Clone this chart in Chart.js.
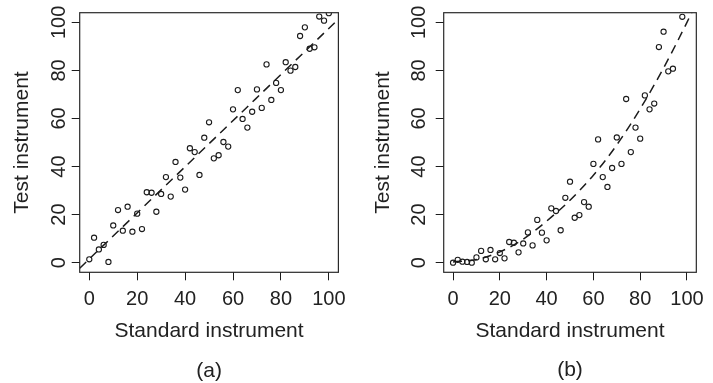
<!DOCTYPE html>
<html>
<head>
<meta charset="utf-8">
<script src="https://cdn.jsdelivr.net/npm/chart.js@4.4.1/dist/chart.umd.min.js"></script>
<style>
  html, body { margin: 0; padding: 0; background: #fff; }
  .panel { position: absolute; top: 0; height: 383px; }
  #panelA { left: 0; width: 356px; }
  #panelB { left: 356px; width: 357px; }
</style>
</head>
<body>
<div class="panel" id="panelA"><canvas id="chartA"></canvas></div>
<div class="panel" id="panelB"><canvas id="chartB"></canvas></div>
<script>
/* Standard vs test instrument – two calibration panels */

const axisTicks = [0, 20, 40, 60, 80, 100];
const xLabel = 'Standard instrument';
const yLabel = 'Test instrument';

// (a) roughly linear response
const standardA = [0, 2, 4, 6, 8, 10, 12, 14, 16, 18, 20, 22, 24, 26, 28, 30, 32, 34, 36, 38, 40,
  42, 44, 46, 48, 50, 52, 54, 56, 58, 60, 62, 64, 66, 68, 70, 72, 74, 76, 78, 80,
  82, 84, 86, 88, 90, 92, 94, 96, 98, 100];
const testA = [1.4, 10.4, 5.5, 7.4, 0.3, 15.5, 21.9, 13.3, 23.3, 12.9, 20.4, 14.0, 29.3, 29.1, 21.2, 28.6, 35.6, 27.5, 41.9, 35.4, 30.4,
  47.6, 46.0, 36.5, 52.0, 58.4, 43.4, 44.7, 50.2, 48.3, 63.8, 71.8, 59.8, 56.2, 62.8, 72.1, 64.4, 82.5, 67.7, 74.8, 71.8,
  83.4, 79.9, 81.4, 94.3, 97.9, 89.0, 89.6, 102.4, 100.7, 103.8];
const fitXA = [-4, 104];
const fitYA = [-2.3, 101.3];

// (b) curved response
const standardB = [0, 2, 4, 6, 8, 10, 12, 14, 16, 18, 20, 22, 24, 26, 28, 30, 32, 34, 36, 38, 40,
  42, 44, 46, 48, 50, 52, 54, 56, 58, 60, 62, 64, 66, 68, 70, 72, 74, 76, 78, 80,
  82, 84, 86, 88, 90, 92, 94, 98];
const testB = [0.0, 1.2, 0.4, 0.3, 0.0, 2.2, 4.9, 1.4, 5.3, 1.4, 4.0, 1.8, 8.6, 8.3, 4.3, 8.0, 12.6, 7.2, 17.8, 12.5, 9.3,
  22.6, 21.5, 13.5, 27.0, 33.7, 18.7, 19.8, 25.2, 23.3, 41.1, 51.3, 35.6, 31.5, 39.4, 52.1, 41.1, 68.1, 46.0, 56.2, 51.6,
  69.6, 63.8, 66.2, 89.7, 96.1, 79.6, 80.7, 102.3];
const fitXB = [0, 10, 20, 30, 40, 50, 60, 70, 80, 90, 100, 104];
const fitYB = [0.3, 1.3, 4.5, 9.8, 17.3, 26.0, 36.4, 49.0, 64.0, 81.0, 100.0, 108.2];

const INK = '#1c1c1c';
const TEXT = '#222';
const FONT = '"Liberation Sans", Arial, Helvetica, sans-serif';

const toPoints = (xs, ys) => xs.map((x, i) => ({ x: x, y: ys[i] }));

// box round the plot region
const frameBox = {
  id: 'frameBox',
  afterDraw(chart) {
    const { ctx, chartArea: a } = chart;
    ctx.save();
    ctx.strokeStyle = '#2a2a2a';
    ctx.lineWidth = 1.2;
    ctx.strokeRect(a.left, a.top, a.right - a.left, a.bottom - a.top);
    ctx.restore();
  }
};

// y tick labels turned like the axis (R style)
const sideTicks = {
  id: 'sideTicks',
  afterDraw(chart, args, opts) {
    const { ctx } = chart;
    const y = chart.scales.y;
    ctx.save();
    ctx.fillStyle = TEXT;
    ctx.font = '20px ' + FONT;
    ctx.textAlign = 'center';
    ctx.textBaseline = 'alphabetic';
    axisTicks.forEach(v => {
      ctx.save();
      ctx.translate(opts.x, y.getPixelForValue(v));
      ctx.rotate(-Math.PI / 2);
      ctx.fillText(String(v), 0, 0);
      ctx.restore();
    });
    ctx.restore();
  }
};

// "(a)" / "(b)" under each panel
const panelTag = {
  id: 'panelTag',
  afterDraw(chart, args, opts) {
    const { ctx, chartArea: a } = chart;
    ctx.save();
    ctx.fillStyle = TEXT;
    ctx.font = '21px ' + FONT;
    ctx.textAlign = 'center';
    ctx.textBaseline = 'middle';
    ctx.fillText(opts.text, (a.left + a.right) / 2, opts.y);
    ctx.restore();
  }
};

function makePanel(canvasId, xs, ys, fitX, fitY, cfg) {
  return new Chart(document.getElementById(canvasId), {
    type: 'scatter',
    data: {
      datasets: [
        {
          data: toPoints(xs, ys),
          pointStyle: 'circle',
          pointRadius: 2.6,
          pointBorderWidth: 1.1,
          pointBorderColor: INK,
          pointBackgroundColor: 'rgba(0,0,0,0)',
          showLine: false
        },
        {
          data: toPoints(fitX, fitY),
          showLine: true,
          borderColor: INK,
          borderWidth: 1.5,
          borderDash: [9, 6],
          pointRadius: 0,
          fill: false,
          cubicInterpolationMode: 'monotone'
        }
      ]
    },
    options: {
      responsive: true,
      maintainAspectRatio: false,
      animation: false,
      events: [],
      layout: { padding: { left: 0, right: cfg.rightPad, top: 12.7, bottom: 0 } },
      plugins: {
        legend: { display: false },
        tooltip: { enabled: false },
        sideTicks: { x: cfg.tickX },
        panelTag: { text: cfg.tag, y: cfg.tagY }
      },
      scales: {
        x: {
          type: 'linear',
          min: -4,
          max: 104,
          afterBuildTicks: s => { s.ticks = axisTicks.map(v => ({ value: v })); },
          afterFit: s => { s.height = 110.7; },
          border: { display: false },
          grid: { drawOnChartArea: false, tickLength: 8, color: INK, lineWidth: 1 },
          ticks: { color: TEXT, padding: 9, maxRotation: 0, font: { family: FONT, size: 20, lineHeight: 1 } },
          title: {
            display: true, text: xLabel, color: TEXT,
            font: { family: FONT, size: 21 },
            padding: { top: 0, bottom: 39 }
          }
        },
        y: {
          type: 'linear',
          min: -4,
          max: 104,
          afterBuildTicks: s => { s.ticks = axisTicks.map(v => ({ value: v })); },
          afterFit: s => { s.width = cfg.leftWidth; },
          border: { display: false },
          grid: { drawOnChartArea: false, tickLength: 8, color: INK, lineWidth: 1 },
          ticks: { display: false },
          title: {
            display: true, text: yLabel, color: TEXT,
            font: { family: FONT, size: 21 },
            padding: { top: cfg.titlePad, bottom: 0 }
          }
        }
      }
    },
    plugins: [frameBox, sideTicks, panelTag]
  });
}

makePanel('chartA', standardA, testA, fitXA, fitYA,
  { leftWidth: 79.7, rightPad: 17.6, tickX: 65, titlePad: 9.9, tag: '(a)', tagY: 371 });
makePanel('chartB', standardB, testB, fitXB, fitYB,
  { leftWidth: 87.7, rightPad: 9.4, tickX: 69, titlePad: 15.1, tag: '(b)', tagY: 370 });
</script>
</body>
</html>
